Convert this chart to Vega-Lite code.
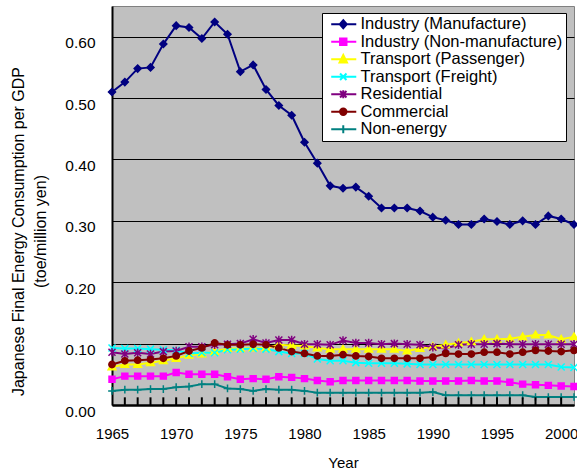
{
 "$schema": "https://vega.github.io/schema/vega-lite/v6.json",
 "width": 462, "height": 399,
 "autosize": {"type": "none"},
 "padding": {"left": 112, "top": 6, "right": 3, "bottom": 67},
 "background": "white",
 "config": {"font": "Liberation Sans", "view": {"fill": "#C0C0C0", "stroke": "#808080", "strokeWidth": 1}},
 "data": {"values": [
  {"year":1965,"series":"Industry (Manufacture)","value":0.510},{"year":1966,"series":"Industry (Manufacture)","value":0.526},{"year":1967,"series":"Industry (Manufacture)","value":0.548},{"year":1968,"series":"Industry (Manufacture)","value":0.550},{"year":1969,"series":"Industry (Manufacture)","value":0.588},{"year":1970,"series":"Industry (Manufacture)","value":0.618},{"year":1971,"series":"Industry (Manufacture)","value":0.615},{"year":1972,"series":"Industry (Manufacture)","value":0.597},{"year":1973,"series":"Industry (Manufacture)","value":0.624},{"year":1974,"series":"Industry (Manufacture)","value":0.604},
  {"year":1975,"series":"Industry (Manufacture)","value":0.543},{"year":1976,"series":"Industry (Manufacture)","value":0.554},{"year":1977,"series":"Industry (Manufacture)","value":0.514},{"year":1978,"series":"Industry (Manufacture)","value":0.488},{"year":1979,"series":"Industry (Manufacture)","value":0.472},{"year":1980,"series":"Industry (Manufacture)","value":0.428},{"year":1981,"series":"Industry (Manufacture)","value":0.394},{"year":1982,"series":"Industry (Manufacture)","value":0.357},{"year":1983,"series":"Industry (Manufacture)","value":0.353},{"year":1984,"series":"Industry (Manufacture)","value":0.355},
  {"year":1985,"series":"Industry (Manufacture)","value":0.340},{"year":1986,"series":"Industry (Manufacture)","value":0.321},{"year":1987,"series":"Industry (Manufacture)","value":0.321},{"year":1988,"series":"Industry (Manufacture)","value":0.321},{"year":1989,"series":"Industry (Manufacture)","value":0.316},{"year":1990,"series":"Industry (Manufacture)","value":0.306},{"year":1991,"series":"Industry (Manufacture)","value":0.301},{"year":1992,"series":"Industry (Manufacture)","value":0.294},{"year":1993,"series":"Industry (Manufacture)","value":0.294},{"year":1994,"series":"Industry (Manufacture)","value":0.303},
  {"year":1995,"series":"Industry (Manufacture)","value":0.299},{"year":1996,"series":"Industry (Manufacture)","value":0.294},{"year":1997,"series":"Industry (Manufacture)","value":0.300},{"year":1998,"series":"Industry (Manufacture)","value":0.294},{"year":1999,"series":"Industry (Manufacture)","value":0.308},{"year":2000,"series":"Industry (Manufacture)","value":0.303},{"year":2001,"series":"Industry (Manufacture)","value":0.294},

  {"year":1965,"series":"Industry (Non-manufacture)","value":0.042},{"year":1966,"series":"Industry (Non-manufacture)","value":0.047},{"year":1967,"series":"Industry (Non-manufacture)","value":0.047},{"year":1968,"series":"Industry (Non-manufacture)","value":0.047},{"year":1969,"series":"Industry (Non-manufacture)","value":0.047},{"year":1970,"series":"Industry (Non-manufacture)","value":0.053},{"year":1971,"series":"Industry (Non-manufacture)","value":0.050},{"year":1972,"series":"Industry (Non-manufacture)","value":0.050},{"year":1973,"series":"Industry (Non-manufacture)","value":0.050},{"year":1974,"series":"Industry (Non-manufacture)","value":0.046},
  {"year":1975,"series":"Industry (Non-manufacture)","value":0.042},{"year":1976,"series":"Industry (Non-manufacture)","value":0.043},{"year":1977,"series":"Industry (Non-manufacture)","value":0.042},{"year":1978,"series":"Industry (Non-manufacture)","value":0.046},{"year":1979,"series":"Industry (Non-manufacture)","value":0.045},{"year":1980,"series":"Industry (Non-manufacture)","value":0.043},{"year":1981,"series":"Industry (Non-manufacture)","value":0.040},{"year":1982,"series":"Industry (Non-manufacture)","value":0.038},{"year":1983,"series":"Industry (Non-manufacture)","value":0.040},{"year":1984,"series":"Industry (Non-manufacture)","value":0.040},
  {"year":1985,"series":"Industry (Non-manufacture)","value":0.040},{"year":1986,"series":"Industry (Non-manufacture)","value":0.040},{"year":1987,"series":"Industry (Non-manufacture)","value":0.040},{"year":1988,"series":"Industry (Non-manufacture)","value":0.040},{"year":1989,"series":"Industry (Non-manufacture)","value":0.039},{"year":1990,"series":"Industry (Non-manufacture)","value":0.039},{"year":1991,"series":"Industry (Non-manufacture)","value":0.039},{"year":1992,"series":"Industry (Non-manufacture)","value":0.039},{"year":1993,"series":"Industry (Non-manufacture)","value":0.040},{"year":1994,"series":"Industry (Non-manufacture)","value":0.039},
  {"year":1995,"series":"Industry (Non-manufacture)","value":0.039},{"year":1996,"series":"Industry (Non-manufacture)","value":0.037},{"year":1997,"series":"Industry (Non-manufacture)","value":0.034},{"year":1998,"series":"Industry (Non-manufacture)","value":0.033},{"year":1999,"series":"Industry (Non-manufacture)","value":0.032},{"year":2000,"series":"Industry (Non-manufacture)","value":0.031},{"year":2001,"series":"Industry (Non-manufacture)","value":0.030},

  {"year":1965,"series":"Transport (Passenger)","value":0.062},{"year":1966,"series":"Transport (Passenger)","value":0.066},{"year":1967,"series":"Transport (Passenger)","value":0.066},{"year":1968,"series":"Transport (Passenger)","value":0.069},{"year":1969,"series":"Transport (Passenger)","value":0.072},{"year":1970,"series":"Transport (Passenger)","value":0.076},{"year":1971,"series":"Transport (Passenger)","value":0.081},{"year":1972,"series":"Transport (Passenger)","value":0.083},{"year":1973,"series":"Transport (Passenger)","value":0.087},{"year":1974,"series":"Transport (Passenger)","value":0.092},
  {"year":1975,"series":"Transport (Passenger)","value":0.092},{"year":1976,"series":"Transport (Passenger)","value":0.093},{"year":1977,"series":"Transport (Passenger)","value":0.093},{"year":1978,"series":"Transport (Passenger)","value":0.098},{"year":1979,"series":"Transport (Passenger)","value":0.097},{"year":1980,"series":"Transport (Passenger)","value":0.096},{"year":1981,"series":"Transport (Passenger)","value":0.093},{"year":1982,"series":"Transport (Passenger)","value":0.091},{"year":1983,"series":"Transport (Passenger)","value":0.091},{"year":1984,"series":"Transport (Passenger)","value":0.091},
  {"year":1985,"series":"Transport (Passenger)","value":0.091},{"year":1986,"series":"Transport (Passenger)","value":0.091},{"year":1987,"series":"Transport (Passenger)","value":0.091},{"year":1988,"series":"Transport (Passenger)","value":0.088},{"year":1989,"series":"Transport (Passenger)","value":0.092},{"year":1990,"series":"Transport (Passenger)","value":0.095},{"year":1991,"series":"Transport (Passenger)","value":0.098},{"year":1992,"series":"Transport (Passenger)","value":0.101},{"year":1993,"series":"Transport (Passenger)","value":0.103},{"year":1994,"series":"Transport (Passenger)","value":0.107},
  {"year":1995,"series":"Transport (Passenger)","value":0.107},{"year":1996,"series":"Transport (Passenger)","value":0.108},{"year":1997,"series":"Transport (Passenger)","value":0.111},{"year":1998,"series":"Transport (Passenger)","value":0.114},{"year":1999,"series":"Transport (Passenger)","value":0.114},{"year":2000,"series":"Transport (Passenger)","value":0.107},{"year":2001,"series":"Transport (Passenger)","value":0.111},

  {"year":1965,"series":"Transport (Freight)","value":0.093},{"year":1966,"series":"Transport (Freight)","value":0.092},{"year":1967,"series":"Transport (Freight)","value":0.092},{"year":1968,"series":"Transport (Freight)","value":0.091},{"year":1969,"series":"Transport (Freight)","value":0.090},{"year":1970,"series":"Transport (Freight)","value":0.089},{"year":1971,"series":"Transport (Freight)","value":0.084},{"year":1972,"series":"Transport (Freight)","value":0.085},{"year":1973,"series":"Transport (Freight)","value":0.085},{"year":1974,"series":"Transport (Freight)","value":0.090},
  {"year":1975,"series":"Transport (Freight)","value":0.091},{"year":1976,"series":"Transport (Freight)","value":0.092},{"year":1977,"series":"Transport (Freight)","value":0.091},{"year":1978,"series":"Transport (Freight)","value":0.087},{"year":1979,"series":"Transport (Freight)","value":0.084},{"year":1980,"series":"Transport (Freight)","value":0.084},{"year":1981,"series":"Transport (Freight)","value":0.075},{"year":1982,"series":"Transport (Freight)","value":0.072},{"year":1983,"series":"Transport (Freight)","value":0.072},{"year":1984,"series":"Transport (Freight)","value":0.069},
  {"year":1985,"series":"Transport (Freight)","value":0.068},{"year":1986,"series":"Transport (Freight)","value":0.068},{"year":1987,"series":"Transport (Freight)","value":0.068},{"year":1988,"series":"Transport (Freight)","value":0.067},{"year":1989,"series":"Transport (Freight)","value":0.066},{"year":1990,"series":"Transport (Freight)","value":0.066},{"year":1991,"series":"Transport (Freight)","value":0.066},{"year":1992,"series":"Transport (Freight)","value":0.066},{"year":1993,"series":"Transport (Freight)","value":0.066},{"year":1994,"series":"Transport (Freight)","value":0.066},
  {"year":1995,"series":"Transport (Freight)","value":0.066},{"year":1996,"series":"Transport (Freight)","value":0.066},{"year":1997,"series":"Transport (Freight)","value":0.066},{"year":1998,"series":"Transport (Freight)","value":0.066},{"year":1999,"series":"Transport (Freight)","value":0.066},{"year":2000,"series":"Transport (Freight)","value":0.062},{"year":2001,"series":"Transport (Freight)","value":0.061},

  {"year":1965,"series":"Residential","value":0.086},{"year":1966,"series":"Residential","value":0.083},{"year":1967,"series":"Residential","value":0.085},{"year":1968,"series":"Residential","value":0.083},{"year":1969,"series":"Residential","value":0.087},{"year":1970,"series":"Residential","value":0.088},{"year":1971,"series":"Residential","value":0.095},{"year":1972,"series":"Residential","value":0.095},{"year":1973,"series":"Residential","value":0.098},{"year":1974,"series":"Residential","value":0.099},
  {"year":1975,"series":"Residential","value":0.100},{"year":1976,"series":"Residential","value":0.107},{"year":1977,"series":"Residential","value":0.101},{"year":1978,"series":"Residential","value":0.106},{"year":1979,"series":"Residential","value":0.106},{"year":1980,"series":"Residential","value":0.099},{"year":1981,"series":"Residential","value":0.099},{"year":1982,"series":"Residential","value":0.098},{"year":1983,"series":"Residential","value":0.105},{"year":1984,"series":"Residential","value":0.101},
  {"year":1985,"series":"Residential","value":0.101},{"year":1986,"series":"Residential","value":0.099},{"year":1987,"series":"Residential","value":0.100},{"year":1988,"series":"Residential","value":0.099},{"year":1989,"series":"Residential","value":0.098},{"year":1990,"series":"Residential","value":0.094},{"year":1991,"series":"Residential","value":0.092},{"year":1992,"series":"Residential","value":0.098},{"year":1993,"series":"Residential","value":0.099},{"year":1994,"series":"Residential","value":0.099},
  {"year":1995,"series":"Residential","value":0.100},{"year":1996,"series":"Residential","value":0.099},{"year":1997,"series":"Residential","value":0.099},{"year":1998,"series":"Residential","value":0.099},{"year":1999,"series":"Residential","value":0.099},{"year":2000,"series":"Residential","value":0.099},{"year":2001,"series":"Residential","value":0.099},

  {"year":1965,"series":"Commercial","value":0.066},{"year":1966,"series":"Commercial","value":0.072},{"year":1967,"series":"Commercial","value":0.073},{"year":1968,"series":"Commercial","value":0.074},{"year":1969,"series":"Commercial","value":0.076},{"year":1970,"series":"Commercial","value":0.080},{"year":1971,"series":"Commercial","value":0.088},{"year":1972,"series":"Commercial","value":0.093},{"year":1973,"series":"Commercial","value":0.101},{"year":1974,"series":"Commercial","value":0.098},
  {"year":1975,"series":"Commercial","value":0.098},{"year":1976,"series":"Commercial","value":0.099},{"year":1977,"series":"Commercial","value":0.098},{"year":1978,"series":"Commercial","value":0.093},{"year":1979,"series":"Commercial","value":0.087},{"year":1980,"series":"Commercial","value":0.084},{"year":1981,"series":"Commercial","value":0.080},{"year":1982,"series":"Commercial","value":0.080},{"year":1983,"series":"Commercial","value":0.082},{"year":1984,"series":"Commercial","value":0.080},
  {"year":1985,"series":"Commercial","value":0.079},{"year":1986,"series":"Commercial","value":0.076},{"year":1987,"series":"Commercial","value":0.076},{"year":1988,"series":"Commercial","value":0.076},{"year":1989,"series":"Commercial","value":0.076},{"year":1990,"series":"Commercial","value":0.078},{"year":1991,"series":"Commercial","value":0.084},{"year":1992,"series":"Commercial","value":0.083},{"year":1993,"series":"Commercial","value":0.083},{"year":1994,"series":"Commercial","value":0.086},
  {"year":1995,"series":"Commercial","value":0.086},{"year":1996,"series":"Commercial","value":0.083},{"year":1997,"series":"Commercial","value":0.086},{"year":1998,"series":"Commercial","value":0.089},{"year":1999,"series":"Commercial","value":0.088},{"year":2000,"series":"Commercial","value":0.087},{"year":2001,"series":"Commercial","value":0.089},

  {"year":1965,"series":"Non-energy","value":0.023},{"year":1966,"series":"Non-energy","value":0.025},{"year":1967,"series":"Non-energy","value":0.025},{"year":1968,"series":"Non-energy","value":0.026},{"year":1969,"series":"Non-energy","value":0.026},{"year":1970,"series":"Non-energy","value":0.029},{"year":1971,"series":"Non-energy","value":0.030},{"year":1972,"series":"Non-energy","value":0.034},{"year":1973,"series":"Non-energy","value":0.034},{"year":1974,"series":"Non-energy","value":0.027},
  {"year":1975,"series":"Non-energy","value":0.026},{"year":1976,"series":"Non-energy","value":0.023},{"year":1977,"series":"Non-energy","value":0.026},{"year":1978,"series":"Non-energy","value":0.025},{"year":1979,"series":"Non-energy","value":0.025},{"year":1980,"series":"Non-energy","value":0.023},{"year":1981,"series":"Non-energy","value":0.020},{"year":1982,"series":"Non-energy","value":0.020},{"year":1983,"series":"Non-energy","value":0.020},{"year":1984,"series":"Non-energy","value":0.020},
  {"year":1985,"series":"Non-energy","value":0.020},{"year":1986,"series":"Non-energy","value":0.020},{"year":1987,"series":"Non-energy","value":0.020},{"year":1988,"series":"Non-energy","value":0.020},{"year":1989,"series":"Non-energy","value":0.020},{"year":1990,"series":"Non-energy","value":0.021},{"year":1991,"series":"Non-energy","value":0.016},{"year":1992,"series":"Non-energy","value":0.016},{"year":1993,"series":"Non-energy","value":0.016},{"year":1994,"series":"Non-energy","value":0.016},
  {"year":1995,"series":"Non-energy","value":0.016},{"year":1996,"series":"Non-energy","value":0.016},{"year":1997,"series":"Non-energy","value":0.016},{"year":1998,"series":"Non-energy","value":0.013},{"year":1999,"series":"Non-energy","value":0.013},{"year":2000,"series":"Non-energy","value":0.013},{"year":2001,"series":"Non-energy","value":0.013}
 ]},
 "encoding": {
  "x": {"field": "year", "type": "quantitative",
   "scale": {"domain": [1965, 2001], "nice": false, "zero": false},
   "axis": {"title": "Year", "values": [1965, 1970, 1975, 1980, 1985, 1990, 1995, 2000],
    "format": "d", "grid": false, "domainColor": "black", "domainWidth": 2.5, "ticks": false,
    "labelFontSize": 15, "labelColor": "black", "labelPadding": 21, "labelFlush": false, "labelOverlap": false,
    "titleFontSize": 15, "titleFontWeight": "normal", "titleColor": "black", "titleY": 50, "titleBaseline": "top"}},
  "y": {"field": "value", "type": "quantitative",
   "scale": {"domain": [0, 0.65], "nice": false},
   "axis": {"values": [0, 0.1, 0.2, 0.3, 0.4, 0.5, 0.6], "format": ".2f",
    "grid": true, "gridColor": "black", "gridWidth": 1, "gridOpacity": 1,
    "ticks": false, "domainColor": "black", "domainWidth": 2,
    "labelFontSize": 15.5, "labelPadding": 17, "labelColor": "black", "labelOffset": 6,
    "title": ["Japanese Final Energy Consumption per GDP", "(toe/million yen)"],
    "titleFontSize": 16, "titleFontWeight": "normal", "titleColor": "black",
    "titleAngle": -90, "titleBaseline": "top", "titleAlign": "center",
    "titleX": -102, "titleY": 225, "titleLineHeight": 22}}
 },
 "layer": [
  {"mark": {"type": "line", "strokeWidth": 2},
   "encoding": {
    "color": {"field": "series", "type": "nominal",
     "scale": {"domain": ["Industry (Manufacture)", "Industry (Non-manufacture)", "Transport (Passenger)", "Transport (Freight)", "Residential", "Commercial", "Non-energy"],
      "range": ["#000080", "#FF00FF", "#FFFF00", "#00FFFF", "#800080", "#800000", "#008080"]},
     "legend": {"orient": "none", "legendX": 210, "legendY": 7, "title": null,
      "fillColor": "white", "strokeColor": "black", "padding": 3,
      "labelFontSize": 16.5, "labelColor": "black", "labelOffset": 19, "labelLimit": 400,
      "symbolSize": 196, "rowPadding": 0.5, "symbolStrokeWidth": 2,
      "encode": {"symbols": {"update": {
       "shape": {"signal": "['M-0.29,0H3.29M1.43,-0.57L1.93,0L1.43,0.57L0.93,0Z','M-0.29,0H3.29M0.97,-0.46H1.89V0.46H0.97Z','M-0.29,0H3.29M1.43,-0.6L1.96,0.45H0.9Z','M-0.29,0H3.29M0.97,-0.46L1.89,0.46M0.97,0.46L1.89,-0.46','M-0.29,0H3.29M0.97,-0.46L1.89,0.46M0.97,0.46L1.89,-0.46M1.43,-0.57V0.57','M-0.29,0H3.29M0.97,0A0.46,0.46 0 1,0 1.89,0A0.46,0.46 0 1,0 0.97,0Z','M-0.29,0H3.29M1.43,-0.57V0.57'][indexof(['Industry (Manufacture)','Industry (Non-manufacture)','Transport (Passenger)','Transport (Freight)','Residential','Commercial','Non-energy'], datum.value)]"},
       "fill": {"scale": "color", "field": "value"},
       "stroke": {"scale": "color", "field": "value"},
       "strokeWidth": {"value": 2},
       "opacity": {"value": 1}}}}}}}},
  {"mark": {"type": "point", "filled": true, "size": 49, "strokeWidth": 1.5, "opacity": 1},
   "encoding": {
    "shape": {"field": "series", "type": "nominal", "legend": null,
     "scale": {"domain": ["Non-energy", "Commercial", "Residential", "Transport (Freight)", "Transport (Passenger)", "Industry (Non-manufacture)", "Industry (Manufacture)"],
      "range": ["M-1.1,0H1.1M0,-1.1V1.1", "M-0.9,0A0.9,0.9 0 1,0 0.9,0A0.9,0.9 0 1,0 -0.9,0Z", "M-1,-1L1,1M-1,1L1,-1M0,-1.2V1.2", "M-1,-1L1,1M-1,1L1,-1", "M0,-1.1L1.1,0.8H-1.1Z", "M-0.85,-0.85H0.85V0.85H-0.85Z", "M0,-1L1,0L0,1L-1,0Z"]}},
    "fill": {"field": "series", "type": "nominal", "legend": null,
     "scale": {"domain": ["Non-energy", "Commercial", "Residential", "Transport (Freight)", "Transport (Passenger)", "Industry (Non-manufacture)", "Industry (Manufacture)"],
      "range": ["#008080", "#800000", "#800080", "#00FFFF", "#FFFF00", "#FF00FF", "#000080"]}},
    "stroke": {"field": "series", "type": "nominal", "legend": null,
     "scale": {"domain": ["Non-energy", "Commercial", "Residential", "Transport (Freight)", "Transport (Passenger)", "Industry (Non-manufacture)", "Industry (Manufacture)"],
      "range": ["#008080", "#800000", "#800080", "#00FFFF", "#FFFF00", "#FF00FF", "#000080"]}}}},
  {"transform": [{"filter": "datum.series === 'Non-energy' && datum.year > 1965 && datum.year < 2001"}],
   "mark": {"type": "rule", "color": "black", "strokeWidth": 2, "opacity": 1},
   "encoding": {"y": {"datum": 0}, "y2": {"datum": 0.0125}}}
 ]
}
